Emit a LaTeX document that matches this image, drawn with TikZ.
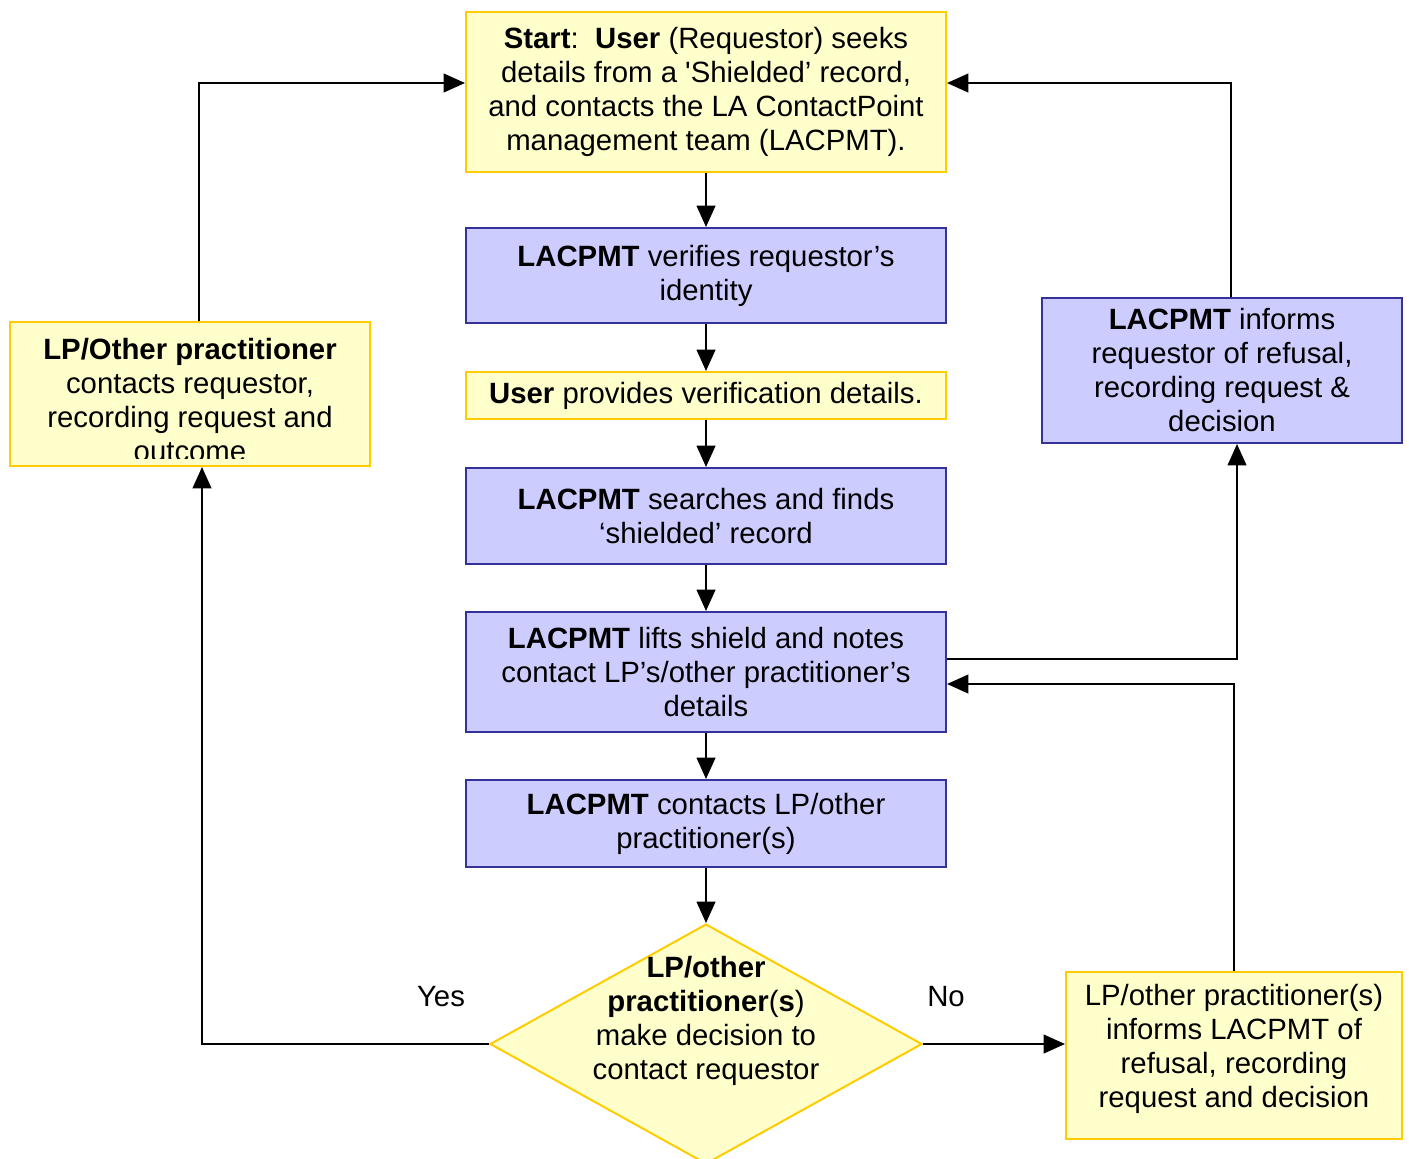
\documentclass[tikz,border=0pt]{standalone}
\usepackage{fontspec}
\setmainfont{Liberation Sans}
\usetikzlibrary{arrows.meta,shapes.geometric}
\definecolor{ylfill}{HTML}{FFFFCC}
\definecolor{yldraw}{HTML}{FFCC00}
\definecolor{blfill}{HTML}{CCCCFF}
\definecolor{bldraw}{HTML}{333399}
\tikzset{
  every node/.style={font=\fontsize{22}{25.5}\selectfont},
  ybox/.style={draw=yldraw, fill=ylfill, line width=1.5pt, align=center, inner sep=0pt},
  bbox/.style={draw=bldraw, fill=blfill, line width=1.5pt, align=center, inner sep=0pt},
  ydia/.style={diamond, draw=yldraw, fill=ylfill, line width=1.5pt, inner sep=0pt},
  conn/.style={line width=1.5pt, -{Triangle[length=16pt,width=14pt]}},
  lbl/.style={inner sep=0pt}
}
\begin{document}
\begin{tikzpicture}[x=0.75pt,y=-0.75pt]
\useasboundingbox[fill=white] (0,0) rectangle (1409,1158);

\node[ybox, minimum width=360pt, minimum height=120pt] (start) at (706,92)
 {\textbf{Start}:\ \ \textbf{User} (Requestor) seeks\\details from a \textquotesingle Shielded’ record,\\and contacts the LA ContactPoint\\management team (LACPMT).};
\node[bbox, minimum width=360pt, minimum height=71.25pt] (verify) at (706,275.5)
 {\textbf{LACPMT} verifies requestor’s\\identity};
\node[ybox, minimum width=360pt, minimum height=35.25pt] (provide) at (706,395.5)
 {\textbf{User} provides verification details.};
\node[bbox, minimum width=360pt, minimum height=72pt] (search) at (706,516)
 {\textbf{LACPMT} searches and finds\\‘shielded’ record};
\node[bbox, minimum width=360pt, minimum height=90pt] (lift) at (706,672)
 {\textbf{LACPMT} lifts shield and notes\\contact LP’s/other practitioner’s\\details};
\node[bbox, minimum width=360pt, minimum height=65.25pt] (contact) at (706,823.5)
 {\textbf{LACPMT} contacts LP/other\\practitioner(s)};
\node[ydia, minimum width=324pt, minimum height=180pt] (dec) at (706,1044) {};
\node[lbl, align=center] (dectext) at (706,1021)
 {\textbf{LP/other}\\\textbf{practitioner}(\textbf{s})\\make decision to\\contact requestor};

\node[ybox, minimum width=270pt, minimum height=108pt] (lp) at (190,394) {};
\begin{scope}
\clip (12,324) rectangle (368,458);
\node[lbl, align=center] (lptext) at (190,400)
 {\textbf{LP/Other practitioner}\\contacts requestor,\\recording request and\\outcome};
\end{scope}

\node[bbox, minimum width=270pt, minimum height=108.75pt] (refuse) at (1222,370.5)
 {\textbf{LACPMT} informs\\requestor of refusal,\\recording request \&\\decision};
\node[ybox, minimum width=252pt, minimum height=125.25pt] (inform) at (1234,1055.5) {};
\node[lbl, align=center] (informtext) at (1234,1049)
 {LP/other practitioner(s)\\informs LACPMT of\\refusal, recording\\request and decision};

\node[lbl] (yes) at (441,997) {Yes};
\node[lbl] (no) at (946,997) {No};

\draw[conn] (start) -- (verify);
\draw[conn] (verify) -- (provide);
\draw[conn] (provide) -- (search);
\draw[conn] (search) -- (lift);
\draw[conn] (lift) -- (contact);
\draw[conn] (contact) -- (dec.north);
\draw[conn] (dec.west) -| ([xshift=9pt]lp.south);
\draw[conn] ([xshift=6.75pt]lp.north) |- ([yshift=6.75pt]start.west);
\draw[conn] (dec.east) -- (inform.west |- dec.east);
\draw[conn] (inform.north) |- ([yshift=-9pt]lift.east);
\draw[conn] ([yshift=9.75pt]lift.east) -| ([xshift=11.25pt]refuse.south);
\draw[conn] ([xshift=6.75pt]refuse.north) |- ([yshift=6.75pt]start.east);
\end{tikzpicture}
\end{document}
